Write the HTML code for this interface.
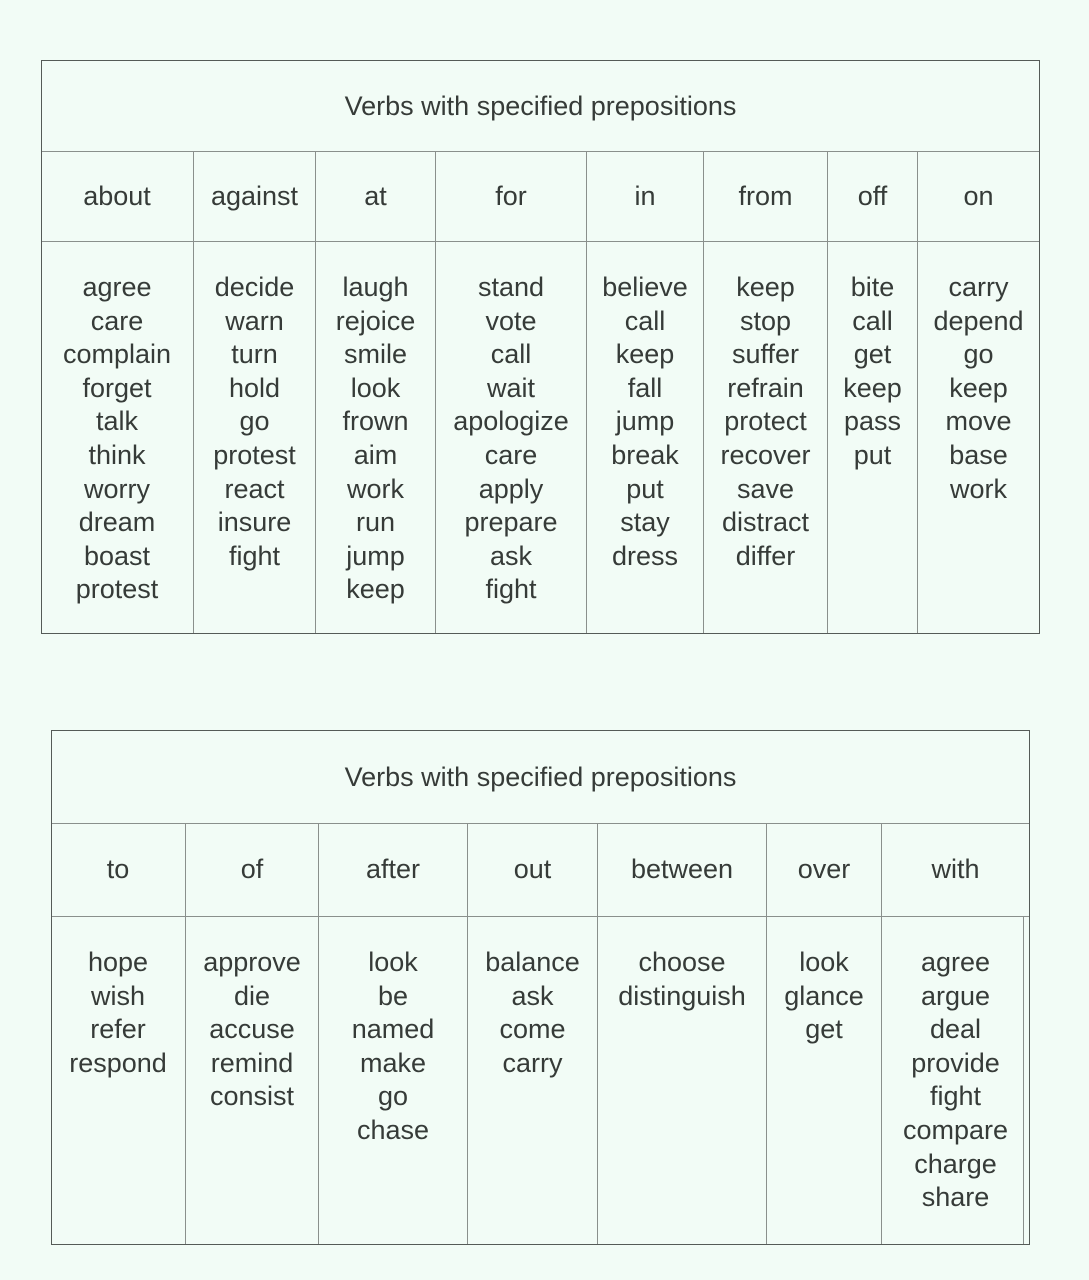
<!DOCTYPE html>
<html><head><meta charset="utf-8">
<style>
body{margin:0;width:1089px;height:1280px;background:#f2fcf6;position:relative;overflow:hidden;font-family:"Liberation Sans",sans-serif;color:#363b38}
.t{position:absolute;border:1.5px solid #555b57;box-sizing:border-box}
.c{position:absolute;box-sizing:border-box;text-align:center;font-size:27px;border-left:1px solid #8a908c}
.h{position:absolute;box-sizing:border-box;border-top:1px solid #8a908c;left:0;right:0}
.title{position:absolute;left:0;right:0;top:0;text-align:center;font-size:27px}
.b{line-height:33.6px;white-space:nowrap}
</style></head><body>
<div id="t1" class="t" style="left:41px;top:60px;width:999px;height:574px">
<div class="title" style="height:91px;line-height:91px">Verbs with specified prepositions</div>
</div>
<div id="t2" class="t" style="left:51px;top:730px;width:979px;height:515px">
<div class="title" style="height:93px;line-height:93px">Verbs with specified prepositions</div>
<div style="position:absolute;left:971px;top:185px;width:0;height:328px;border-left:1px solid #8a908c"></div>
</div>
<script>
const heads1=["about","against","at","for","in","from","off","on"];
const cols1=[41,193,315,435,586,703,827,917,1039];
const words1=[["agree","care","complain","forget","talk","think","worry","dream","boast","protest"],["decide","warn","turn","hold","go","protest","react","insure","fight"],["laugh","rejoice","smile","look","frown","aim","work","run","jump","keep"],["stand","vote","call","wait","apologize","care","apply","prepare","ask","fight"],["believe","call","keep","fall","jump","break","put","stay","dress"],["keep","stop","suffer","refrain","protect","recover","save","distract","differ"],["bite","call","get","keep","pass","put"],["carry","depend","go","keep","move","base","work"]];
const heads2=["to","of","after","out","between","over","with"];
const cols2=[51,185,318,467,597,766,881,1029];
const words2=[["hope","wish","refer","respond"],["approve","die","accuse","remind","consist"],["look","be","named","make","go","chase"],["balance","ask","come","carry"],["choose","distinguish"],["look","glance","get"],["agree","argue","deal","provide","fight","compare","charge","share"]];
function build(id,left,top,heads,cols,words,titleH,headH,bodyH){
  const t=document.getElementById(id);
  const l1=document.createElement('div');l1.className='h';l1.style.top=(titleH-1)+'px';
  
  
  t.appendChild(l1);
  const l2=document.createElement('div');l2.className='h';l2.style.top=(titleH+headH-1)+'px';
  
  
  t.appendChild(l2);
  for(let i=0;i<heads.length;i++){
    const x=cols[i]-left-1,w=cols[i+1]-cols[i];
    const h=document.createElement('div');h.className='c';
    h.style.cssText='left:'+x+'px;width:'+w+'px;top:'+(titleH-1)+'px;height:'+headH+'px;line-height:'+headH+'px;'+(i==0?'border-left:none':'');
    h.textContent=heads[i];
    
    
    t.appendChild(h);
    const b=document.createElement('div');b.className='c b';
    b.style.cssText='left:'+x+'px;width:'+w+'px;top:'+(titleH+headH-1)+'px;height:'+bodyH+'px;padding-top:30px;'+(i==0?'border-left:none':'');
    b.innerHTML=words[i].join('<br>');
    
    
    t.appendChild(b);
  }
}
build('t1',41,60,heads1,cols1,words1,91,90,392);
build('t2',51,730,heads2,cols2,words2,93,93,328);
</script>
</body></html>
